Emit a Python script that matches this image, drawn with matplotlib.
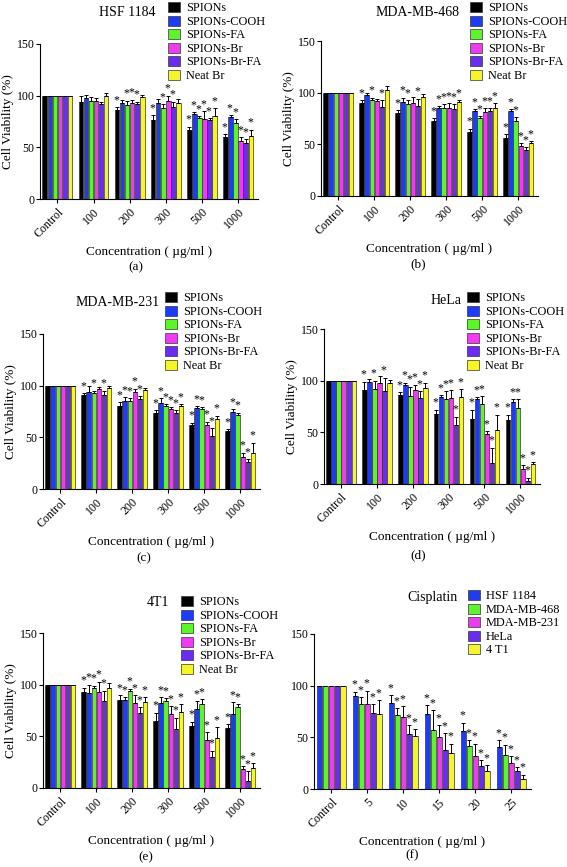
import numpy as np
import matplotlib
matplotlib.use("Agg")
import matplotlib.pyplot as plt
from matplotlib.patches import Patch

plt.rcParams["font.family"] = ["Liberation Serif", "DejaVu Serif"]

W, H = 567, 867

# series names / colours
np_labels = ["SPIONs", "SPIONs-COOH", "SPIONs-FA", "SPIONs-Br", "SPIONs-Br-FA", "Neat Br"]
np_colors = ["#000000", "#1f3cf5", "#5cf52a", "#f03cf0", "#6a2cf0", "#f5f52a"]
np_groups = ["Control", "100", "200", "300", "500", "1000"]

cis_labels = ["HSF 1184", "MDA-MB-468", "MDA-MB-231", "HeLa", "4 T1"]
cis_colors = ["#1f3cf5", "#5cf52a", "#f03cf0", "#6a2cf0", "#f5f52a"]
cis_groups = ["Control", "5", "10", "15", "20", "25"]

# values: rows = groups, columns = series
hsf_val = [[100, 100, 100, 100, 100, 100],
           [94, 98, 95, 95, 92, 100],
           [86, 93, 91, 93, 92, 99],
           [76, 93, 88, 95, 89, 93],
           [67, 82, 78, 77, 76, 80],
           [60, 79, 74, 56, 54, 61]]
hsf_err = [[0, 0, 0, 0, 0, 0],
           [6, 3, 4, 3, 2, 3],
           [3, 3, 4, 3, 2, 2],
           [5, 4, 4, 5, 5, 4],
           [3, 2, 2, 8, 2, 8],
           [3, 2, 3, 4, 4, 6]]
hsf_star = [[0, 0, 0, 0, 0, 0],
            [0, 0, 0, 0, 0, 0],
            [1, 0, 1, 1, 1, 0],
            [1, 0, 1, 1, 1, 0],
            [1, 1, 1, 1, 1, 1],
            [1, 1, 1, 1, 1, 1]]

m468_val = [[100, 100, 100, 100, 100, 100],
            [90, 98, 93, 92, 86, 103],
            [80, 91, 89, 90, 87, 96],
            [73, 85, 85, 85, 84, 91],
            [62, 82, 75, 81, 82, 85],
            [56, 82, 73, 48, 45, 51]]
m468_err = [[0, 0, 0, 0, 0, 0],
            [3, 2, 2, 2, 7, 3],
            [3, 4, 4, 6, 7, 3],
            [2, 2, 4, 5, 5, 2],
            [3, 2, 2, 4, 3, 5],
            [4, 2, 3, 3, 2, 2]]
m468_star = [[0, 0, 0, 0, 0, 0],
             [1, 0, 1, 0, 1, 0],
             [1, 1, 1, 0, 1, 0],
             [1, 1, 1, 1, 1, 1],
             [1, 1, 1, 1, 1, 1],
             [1, 1, 1, 1, 1, 1]]

m231_val = [[100, 100, 100, 100, 100, 100],
            [91, 94, 93, 97, 91, 98],
            [80, 85, 85, 94, 87, 96],
            [74, 83, 80, 77, 74, 80],
            [62, 78, 77, 62, 51, 68],
            [56, 75, 72, 31, 26, 35]]
m231_err = [[0, 0, 0, 0, 0, 0],
            [2, 6, 2, 2, 4, 2],
            [4, 4, 3, 3, 3, 2],
            [2, 5, 2, 2, 2, 2],
            [2, 2, 2, 3, 8, 3],
            [2, 2, 2, 4, 3, 10]]
m231_star = [[0, 0, 0, 0, 0, 0],
             [1, 0, 1, 0, 1, 0],
             [1, 1, 1, 1, 1, 0],
             [1, 1, 1, 1, 1, 1],
             [1, 1, 1, 1, 1, 1],
             [1, 1, 1, 1, 1, 1]]

hela_val = [[100, 100, 100, 100, 100, 100],
            [91, 99, 92, 98, 90, 98],
            [86, 96, 85, 91, 83, 93],
            [68, 84, 82, 83, 57, 84],
            [63, 82, 77, 48, 20, 52],
            [62, 79, 74, 15, 3, 19]]
hela_err = [[0, 0, 0, 0, 0, 0],
            [8, 3, 8, 7, 13, 3],
            [3, 2, 9, 5, 7, 5],
            [4, 2, 8, 8, 8, 8],
            [9, 2, 8, 3, 15, 15],
            [5, 3, 8, 3, 3, 2]]
hela_star = [[0, 0, 0, 0, 0, 0],
             [1, 0, 1, 0, 1, 0],
             [1, 1, 1, 1, 1, 1],
             [1, 1, 1, 1, 1, 1],
             [1, 1, 1, 1, 1, 1],
             [1, 1, 1, 1, 1, 1]]

t41_val = [[100, 100, 100, 100, 100, 100],
           [93, 92, 97, 93, 84, 97],
           [85, 85, 94, 82, 73, 83],
           [65, 82, 84, 72, 57, 74],
           [60, 76, 81, 46, 30, 48],
           [58, 72, 78, 18, 7, 19]]
t41_err = [[0, 0, 0, 0, 0, 0],
           [4, 8, 2, 10, 10, 5],
           [5, 3, 2, 8, 5, 5],
           [8, 6, 3, 7, 11, 7],
           [4, 8, 5, 8, 6, 11],
           [4, 11, 3, 3, 9, 5]]
t41_star = [[0, 0, 0, 0, 0, 0],
            [1, 1, 1, 1, 1, 0],
            [1, 1, 1, 1, 1, 1],
            [1, 1, 1, 1, 1, 1],
            [1, 1, 1, 1, 1, 1],
            [1, 1, 1, 1, 1, 1]]

cis_val = [[100, 100, 100, 100, 100],
           [90, 82, 82, 74, 73],
           [83, 72, 70, 53, 51],
           [73, 57, 50, 38, 35],
           [56, 42, 32, 22, 17],
           [41, 33, 25, 17, 10]]
cis_err = [[0, 0, 0, 0, 0],
           [4, 7, 13, 8, 13],
           [8, 6, 10, 9, 7],
           [8, 19, 12, 16, 9],
           [8, 5, 12, 6, 6],
           [6, 10, 7, 4, 4]]
cis_star = [[0, 0, 0, 0, 0],
            [1, 1, 1, 1, 1],
            [1, 1, 1, 1, 1],
            [1, 1, 1, 1, 1],
            [1, 1, 1, 1, 1],
            [1, 1, 1, 1, 1]]


def px_axes(fig, x0, x1, y0, y1):
    # y0 = top of axes (y=150), y1 = bottom (y=0), all in pixels
    return fig.add_axes([x0 / W, 1 - y1 / H, (x1 - x0) / W, (y1 - y0) / H])


def draw_panel(fig, box, groups, labels, colors, val, err, star, title, tpos,
               lpos, letter, ylabel=True):
    ax = px_axes(fig, *box)
    val = np.array(val, float)
    err = np.array(err, float)
    star = np.array(star)
    n = len(labels)
    total = 0.84 if n == 6 else 0.82
    w = total / n
    x = np.arange(len(groups))
    for i in range(n):
        xi = x - total / 2 + w * (i + 0.5)
        ax.bar(xi, val[:, i], width=w * 0.88, color=colors[i],
               edgecolor="#333333", linewidth=0.5, zorder=2)
        ax.errorbar(xi, val[:, i], yerr=[np.zeros(len(x)), err[:, i]],
                    fmt="none", ecolor="black", elinewidth=0.7, capsize=1.5,
                    capthick=0.7, zorder=3)
        for j in range(len(x)):
            if star[j, i]:
                ax.text(xi[j] - 0.02, val[j, i] + err[j, i] + 1.0, "*",
                        ha="center", va="bottom", fontsize=8.5)
    ax.set_xlim(-0.48, len(groups) - 0.45)
    ax.set_ylim(0, 150)
    ax.set_yticks([0, 50, 100, 150])
    ax.set_xticks(x)
    ax.set_xticklabels(groups, rotation=45, ha="right", rotation_mode="anchor",
                       fontsize=8.5)
    ax.tick_params(axis="y", labelsize=8.5, length=3, width=0.8, pad=1)
    ax.tick_params(axis="x", length=3, width=0.8, pad=2)
    for s in ["top", "right"]:
        ax.spines[s].set_visible(False)
    for s in ["left", "bottom"]:
        ax.spines[s].set_linewidth(0.8)
    if ylabel:
        ax.set_ylabel("Cell Viability (%)", fontsize=9.5, labelpad=2)
    ax.set_xlabel("Concentration ( \u00b5g/ml )", fontsize=9.5, labelpad=4)
    fig.text(tpos[0] / W, 1 - tpos[1] / H, title, fontsize=10,
             ha="center", va="center")
    handles = [Patch(facecolor=c, edgecolor="#333333", linewidth=0.5)
               for c in colors]
    fig.legend(handles, labels, loc="upper left",
               bbox_to_anchor=(lpos[0] / W, 1 - lpos[1] / H),
               frameon=False, fontsize=8.8, handlelength=1.0, handleheight=0.9,
               handletextpad=0.45, labelspacing=0.1, borderpad=0,
               borderaxespad=0)
    fig.text(letter[0] / W, 1 - letter[1] / H, letter[2], fontsize=9.5,
             ha="center", va="center")
    return ax


fig = plt.figure(figsize=(W / 100, H / 100), dpi=100)

draw_panel(fig, (40, 258, 44, 199), np_groups, np_labels, np_colors,
           hsf_val, hsf_err, hsf_star, "HSF 1184", (127, 12), (168, 2),
           (136, 267, "(a)"))
draw_panel(fig, (321, 538, 41, 196), np_groups, np_labels, np_colors,
           m468_val, m468_err, m468_star, "MDA-MB-468", (418, 12), (470, 2),
           (418, 264, "(b)"))
draw_panel(fig, (43, 260, 334, 489), np_groups, np_labels, np_colors,
           m231_val, m231_err, m231_star, "MDA-MB-231", (118, 302), (165, 292),
           (144, 558, "(c)"))
draw_panel(fig, (324, 540, 329, 484), np_groups, np_labels, np_colors,
           hela_val, hela_err, hela_star, "HeLa", (446, 300), (467, 292),
           (418, 555, "(d)"))
draw_panel(fig, (43, 260, 633, 788), np_groups, np_labels, np_colors,
           t41_val, t41_err, t41_star, "4T1", (158, 603), (181, 596),
           (146, 857, "(e)"))
draw_panel(fig, (314, 531, 634, 789), cis_groups, cis_labels, cis_colors,
           cis_val, cis_err, cis_star, "Cisplatin", (433, 597), (468, 590),
           (412, 855, "(f)"), ylabel=False)

fig.savefig("out.png", dpi=100)
